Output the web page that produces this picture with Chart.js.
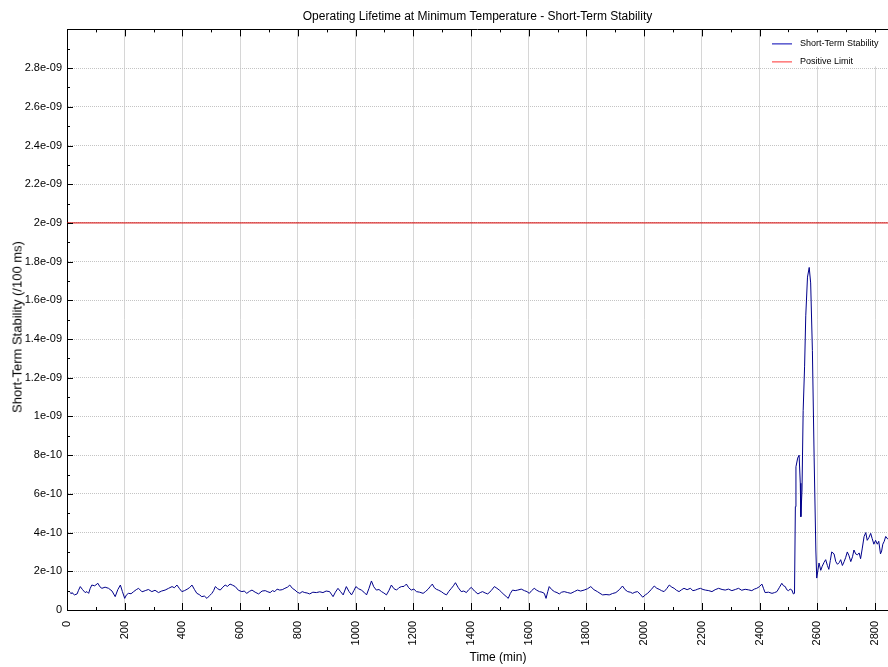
<!DOCTYPE html>
<html lang="en">
<head>
<meta charset="UTF-8" />
<title>Operating Lifetime at Minimum Temperature - Short-Term Stability</title>
<script src="https://cdn.jsdelivr.net/npm/chart.js"></script>
<style>
  body { margin: 0; background: #fff; font-family: 'Liberation Sans', Arial, sans-serif; }
  .wrap { position: relative; width: 888px; height: 667px; }
  .xtitle { position: absolute; left: 498px; top: 650px; transform: translateX(-50%); font-size: 12px; line-height: 14px; color: #000; white-space: nowrap; }
  .ytitle { position: absolute; left: 17px; top: 327px; transform: translate(-50%, -50%) rotate(-90deg); font-size: 13px; line-height: 15px; color: #000; white-space: nowrap; }
</style>
</head>
<body>
<div class="wrap">
  <canvas id="chart" width="888" height="667"></canvas>
  <div class="xtitle">Time (min)</div>
  <div class="ytitle">Short-Term Stability (/100 ms)</div>
</div>
<script>
  // time in minutes, stability in units of 1e-10 (/100 ms)
  const times = [
    10, 14, 17, 26, 35, 40, 46, 54, 63, 69, 75, 80, 86, 96, 107, 114, 121, 132, 144, 156,
    167, 176, 185, 192, 200, 206, 213, 222, 231, 240, 248, 260, 271, 282, 294, 305, 317, 328, 340, 352,
    364, 372, 381, 390, 398, 407, 416, 425, 433, 442, 450, 458, 467, 476, 485, 494, 502, 508, 514, 522,
    531, 540, 548, 556, 565, 574, 583, 594, 606, 614, 623, 632, 641, 652, 664, 676, 687, 696, 704,
    712, 720, 728, 737, 746, 755, 764, 772, 781, 790, 798, 807, 815, 824, 832, 841, 852, 864, 876, 887,
    898, 910, 916, 922, 930, 939, 948, 957, 962, 968, 977, 986, 994, 1001, 1010, 1020, 1029, 1038, 1046, 1055,
    1063, 1072, 1081, 1090, 1098, 1107, 1116, 1124, 1133, 1142, 1150, 1159, 1168, 1176, 1184, 1193, 1202, 1211, 1222, 1234,
    1242, 1251, 1258, 1266, 1273, 1280, 1288, 1297, 1306, 1315, 1323, 1332, 1339, 1346, 1356, 1366, 1375, 1384, 1392, 1401,
    1412, 1424,
    1432, 1440, 1449, 1458, 1470, 1481, 1490, 1498, 1506, 1515, 1522, 1529, 1536, 1544, 1553, 1562, 1574, 1585, 1594, 1602,
    1610, 1619, 1628, 1637, 1646, 1654, 1660, 1666, 1671, 1680, 1689, 1698, 1706, 1714, 1723, 1735, 1746, 1758, 1769, 1780,
    1792, 1804, 1815, 1826, 1838, 1847, 1856, 1868, 1879, 1890, 1902, 1914, 1925, 1934, 1943, 1952, 1960, 1968, 1977, 1986,
    1995, 2004, 2012, 2024, 2035, 2044, 2052, 2060, 2069, 2078, 2087, 2096, 2104, 2112, 2121, 2130, 2138,
    2149, 2160, 2169, 2178, 2186, 2195, 2204, 2212, 2224, 2235, 2246, 2258, 2270, 2281, 2292, 2304, 2316, 2327, 2338, 2350,
    2362, 2373, 2382, 2390, 2399, 2408, 2414, 2419, 2431, 2443, 2452, 2460, 2468, 2477, 2483, 2489, 2494, 2500, 2506, 2512,
    2517, 2521, 2524, 2526, 2532, 2537, 2541, 2543, 2547, 2551, 2556, 2560, 2566, 2572, 2577, 2583, 2589, 2595, 2598, 2606,
    2612, 2617, 2623, 2629, 2635, 2640, 2645, 2650, 2658, 2664, 2670, 2676, 2681, 2687, 2693, 2698, 2704, 2710, 2716, 2722,
    2727, 2733, 2739, 2745, 2750, 2756, 2762, 2768, 2773, 2779, 2785, 2790, 2796, 2802, 2808, 2813, 2819, 2823, 2827, 2832,
    2837, 2845
  ];
  const stability = [
    0.90, 0.86, 0.90, 0.78, 0.83, 1.02, 1.21, 1.05, 0.90, 0.95, 0.86, 1.10, 1.29, 1.25, 1.38, 1.20, 1.12, 1.18, 1.12, 0.98,
    0.69, 1.05, 1.29, 0.95, 0.60, 0.78, 0.86, 0.84, 0.95, 1.05, 1.12, 0.94, 1.00, 1.06, 0.95, 1.02, 0.90, 0.98, 1.03, 1.12,
    1.21, 1.15, 1.29, 1.10, 0.95, 1.00, 1.07, 1.16, 1.29, 1.05, 0.86, 0.80, 0.69, 0.72, 0.60, 0.74, 0.86, 1.00, 1.21, 1.10,
    1.03, 1.18, 1.29, 1.22, 1.34, 1.28, 1.21, 1.02, 0.95, 0.98, 0.86, 0.96, 1.03, 0.92, 0.83, 0.98, 1.00, 0.94, 0.90,
    1.00, 0.95, 1.08, 1.03, 1.05, 1.12, 1.18, 1.29, 1.12, 1.03, 0.92, 0.86, 0.95, 0.90, 0.88, 0.83, 0.92, 0.90, 0.94, 0.90,
    0.98, 0.95, 0.82, 0.69, 0.92, 1.12, 0.95, 0.78, 0.98, 1.21, 0.96, 0.78, 1.00, 1.21, 1.10, 1.03, 0.92, 0.78, 1.10, 1.50,
    1.20, 1.03, 1.06, 0.95, 0.88, 0.78, 1.02, 1.29, 1.10, 1.03, 1.15, 1.21, 1.22, 1.34, 1.15, 1.03, 1.08, 0.95, 0.92, 0.86,
    0.95, 1.07, 1.20, 1.34, 1.15, 1.07, 1.02, 0.95, 0.85, 0.78, 0.96, 1.12, 1.25, 1.41, 1.15, 0.95, 0.98, 0.90, 1.05, 1.17,
    0.98, 0.83,
    0.90, 0.95, 0.88, 0.83, 1.00, 1.21, 1.12, 1.03, 0.92, 0.78, 0.70, 0.60, 0.85, 1.03, 1.00, 1.03, 1.08, 1.00, 0.95, 0.86,
    1.00, 1.12, 1.02, 0.95, 0.92, 0.86, 0.60, 0.95, 1.21, 1.05, 0.95, 0.90, 0.83, 0.92, 0.95, 0.90, 0.86, 0.95, 1.03, 0.98,
    1.03, 1.10, 1.21, 1.05, 0.95, 0.86, 0.78, 0.80, 0.78, 0.85, 0.90, 1.05, 1.24, 1.05, 0.95, 0.92, 0.86, 0.92, 0.95, 0.82,
    0.66, 0.78, 0.86, 1.05, 1.24, 1.12, 1.07, 1.00, 0.95, 1.10, 1.29, 1.18, 1.12, 1.02, 0.95, 1.05, 1.12,
    1.05, 1.12, 1.00, 1.03, 1.08, 1.12, 1.06, 1.03, 1.00, 0.95, 1.05, 1.12, 1.06, 1.03, 1.08, 1.00, 1.06, 1.12, 1.02, 1.07,
    1.04, 1.00, 1.08, 1.12, 1.20, 1.34, 1.10, 0.90, 0.92, 0.86, 0.90, 0.95, 1.15, 1.38, 1.25, 1.21, 1.05, 1.00, 1.08, 1.03,
    0.83, 0.86, 5.34, 7.40, 7.85, 8.00, 6.55, 4.82, 6.20, 10.3, 12.6, 15.2, 17.2, 17.7, 16.9, 13.4, 7.90, 3.10, 1.65, 2.43,
    2.05, 2.26, 2.45, 2.60, 2.30, 2.10, 2.55, 3.00, 2.90, 2.50, 2.36, 2.45, 2.60, 2.30, 2.50, 2.70, 3.00, 2.80, 2.50, 2.75,
    3.10, 2.90, 2.85, 2.95, 2.65, 3.20, 3.79, 4.00, 3.60, 3.75, 3.96, 3.70, 3.40, 3.60, 3.40, 3.55, 2.90, 3.05, 3.40, 3.55,
    3.80, 3.65
  ];
  const limitTimes = [0, 2845];
  const limitValues = [20, 20];
  const unit = 1e-10;

  const xMin = 0, xMax = 2845;
  const yMin = 0, yMax = 3e-9;
  const xMajorTicks = [0, 200, 400, 600, 800, 1000, 1200, 1400, 1600, 1800, 2000, 2200, 2400, 2600, 2800];
  const xMinorTicks = [100, 300, 500, 700, 900, 1100, 1300, 1500, 1700, 1900, 2100, 2300, 2500, 2700];
  const yMajorTicks = [0, 2e-10, 4e-10, 6e-10, 8e-10, 1e-9, 1.2e-9, 1.4e-9, 1.6e-9, 1.8e-9, 2e-9, 2.2e-9, 2.4e-9, 2.6e-9, 2.8e-9];
  const yMajorLabels = ['0', '2e-10', '4e-10', '6e-10', '8e-10', '1e-09', '1.2e-09', '1.4e-09', '1.6e-09', '1.8e-09',
                        '2e-09', '2.2e-09', '2.4e-09', '2.6e-09', '2.8e-09'];
  const yMinorTicks = [1e-10, 3e-10, 5e-10, 7e-10, 9e-10, 1.1e-9, 1.3e-9, 1.5e-9, 1.7e-9, 1.9e-9, 2.1e-9, 2.3e-9, 2.5e-9, 2.7e-9, 2.9e-9];

  const allX = [...xMajorTicks, ...xMinorTicks].sort((a, b) => a - b);
  const allY = [...yMajorTicks, ...yMinorTicks].sort((a, b) => a - b);

  // small inward tick marks, top frame line and the legend box in the top right corner
  const tickMarks = {
    id: 'tickMarks',
    afterDraw(chart) {
      const { ctx, chartArea: a, scales: { x, y } } = chart;
      ctx.save();
      ctx.strokeStyle = '#000';
      ctx.lineWidth = 1;
      ctx.beginPath();
      ctx.moveTo(a.left, Math.round(a.top) + 0.5);
      ctx.lineTo(a.right, Math.round(a.top) + 0.5);
      allX.forEach(v => {
        const len = xMajorTicks.includes(v) ? 7 : 3;
        const px = Math.round(x.getPixelForValue(v)) + 0.5;
        ctx.moveTo(px, a.bottom); ctx.lineTo(px, a.bottom - len);
        ctx.moveTo(px, a.top); ctx.lineTo(px, a.top + len);
      });
      allY.forEach(v => {
        const len = yMajorTicks.includes(v) ? 6 : 3;
        const py = Math.round(y.getPixelForValue(v)) + 0.5;
        ctx.moveTo(a.left, py); ctx.lineTo(a.left + len, py);
      });
      ctx.stroke();

      // legend
      const lx = a.right - 120, ly = a.top + 3;
      ctx.fillStyle = '#fff';
      ctx.fillRect(lx, ly, 120, 34);
      ctx.font = "9px 'Liberation Sans', Arial, sans-serif";
      ctx.textBaseline = 'middle';
      ctx.textAlign = 'left';
      chart.data.datasets.forEach((ds, i) => {
        const yy = ly + 11.5 + i * 18;
        ctx.strokeStyle = ds.legendColor;
        ctx.beginPath();
        ctx.moveTo(lx + 4, yy); ctx.lineTo(lx + 24, yy);
        ctx.stroke();
        ctx.fillStyle = '#000';
        ctx.fillText(ds.label, lx + 32, yy);
      });
      ctx.restore();
    }
  };

  Chart.defaults.font.family = "'Liberation Sans', Arial, sans-serif";
  Chart.defaults.color = '#000';

  new Chart(document.getElementById('chart'), {
    type: 'line',
    data: {
      datasets: [
        {
          label: 'Short-Term Stability',
          data: times.map((t, i) => ({ x: t, y: stability[i] * unit })),
          borderColor: '#00008b',
          legendColor: '#0000b4',
          borderWidth: 1,
          pointRadius: 0,
          tension: 0
        },
        {
          label: 'Positive Limit',
          data: limitTimes.map((t, i) => ({ x: t, y: limitValues[i] * unit })),
          borderColor: '#d80000',
          legendColor: '#ff3030',
          borderWidth: 1,
          pointRadius: 0
        }
      ]
    },
    options: {
      responsive: false,
      animation: false,
      layout: { padding: 0 },
      plugins: {
        legend: { display: false },
        tooltip: { enabled: false },
        title: {
          display: true,
          fullSize: false,
          text: 'Operating Lifetime at Minimum Temperature - Short-Term Stability',
          font: { size: 12, weight: 'normal' },
          padding: { top: 9, bottom: 6 }
        }
      },
      scales: {
        x: {
          type: 'linear',
          min: xMin,
          max: xMax,
          afterBuildTicks: s => { s.ticks = allX.map(v => ({ value: v })); },
          afterFit: s => { s.height = 57; s.paddingRight = 0; s.paddingLeft = 0; },
          ticks: {
            autoSkip: false,
            minRotation: 90,
            maxRotation: 90,
            padding: 11,
            font: { size: 11 },
            callback: v => xMajorTicks.includes(v) ? String(v) : ''
          },
          grid: {
            drawTicks: false,
            tickLength: 0,
            color: c => (c.tick && xMajorTicks.includes(c.tick.value)) ? '#d6d6d6' : 'rgba(0,0,0,0)'
          },
          border: { display: true, color: '#000', width: 1 }
        },
        y: {
          type: 'linear',
          min: yMin,
          max: yMax,
          afterBuildTicks: s => { s.ticks = allY.map(v => ({ value: v })); },
          afterFit: s => { s.width = 67; },
          ticks: {
            autoSkip: false,
            padding: 5,
            font: { size: 11 },
            callback: v => { const i = yMajorTicks.indexOf(v); return i >= 0 ? yMajorLabels[i] : ''; }
          },
          grid: {
            drawTicks: false,
            tickLength: 0,
            color: c => (c.tick && yMajorTicks.includes(c.tick.value)) ? '#c4c4c4' : 'rgba(0,0,0,0)'
          },
          border: { display: true, color: '#000', width: 1, dash: [1, 1] }
        }
      }
    },
    plugins: [tickMarks]
  });
</script>
</body>
</html>
